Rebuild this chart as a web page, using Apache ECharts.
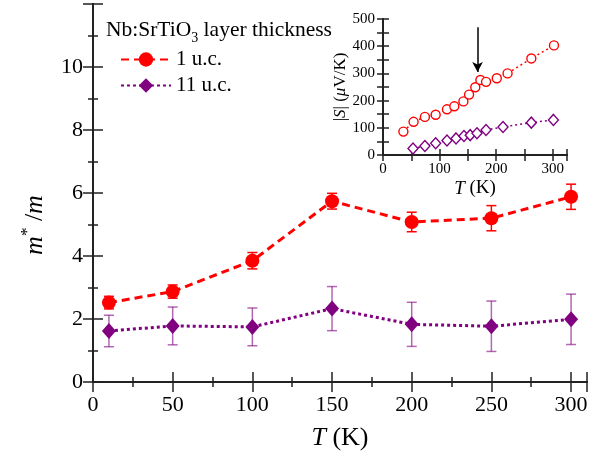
<!DOCTYPE html>
<html><head><meta charset="utf-8">
<script src="https://cdn.jsdelivr.net/npm/echarts@6/dist/echarts.min.js"></script>
<style>html,body{margin:0;padding:0;background:#fff}#c{width:607px;height:457px}</style>
</head><body><div id="c"></div>
<script>
// main panel: effective mass ratio vs temperature
const T_MAIN = [10, 50, 100, 150, 200, 250, 300];
const M_1UC = [2.52, 2.87, 3.85, 5.74, 5.08, 5.20, 5.88];
const M_1UC_ERR = [0.20, 0.21, 0.26, 0.25, 0.31, 0.40, 0.40];
const M_11UC = [1.62, 1.78, 1.75, 2.33, 1.83, 1.77, 1.99];
const M_11UC_ERR = [0.50, 0.60, 0.60, 0.70, 0.70, 0.80, 0.80];
// inset: |S| vs temperature
const T_S_1UC = [36, 54, 74, 93, 113, 126, 142, 152, 163, 172, 182, 201, 220, 262, 302];
const S_1UC = [86, 122, 140, 148, 168, 179, 197, 222, 249, 276, 269, 282, 300, 355, 403];
const T_S_11UC = [53, 74, 93, 113, 129, 143, 154, 166, 182, 212, 262, 301];
const S_11UC = [24, 33, 43, 53, 61, 70, 73, 80, 92, 103, 119, 129];
// arrow in inset
const ARROW_T = 167, ARROW_FROM = 470, ARROW_TO = 305;
const NAMES = ['1 u.c.', '11 u.c.'];

const FONT = 'Liberation Serif';
const RED = '#ff0000', PURPLE = '#800080';
const pairs = (xs, ys) => xs.map((x, i) => [x, ys[i]]);
const errData = (xs, ys, es) => xs.map((x, i) => [x, ys[i] - es[i], ys[i] + es[i]]);

function errRender(color) {
  return function (params, api) {
    const x = api.value(0), lo = api.value(1), hi = api.value(2);
    const a = api.coord([x, lo]), b = api.coord([x, hi]);
    const h = 5;
    const st = { stroke: color, lineWidth: 1.5 };
    return { type: 'group', children: [
      { type: 'line', shape: { x1: a[0], y1: a[1], x2: b[0], y2: b[1] }, style: st },
      { type: 'line', shape: { x1: a[0] - h, y1: a[1], x2: a[0] + h, y2: a[1] }, style: st },
      { type: 'line', shape: { x1: b[0] - h, y1: b[1], x2: b[0] + h, y2: b[1] }, style: st }
    ]};
  };
}

const axLine = { lineStyle: { color: '#222', width: 2 } };
function mainX(pos, show) {
  return {
    type: 'value', gridIndex: 0, position: pos, min: 0, max: 310, interval: 50,
    axisLine: axLine,
    axisTick: { inside: true, length: 10, lineStyle: { color: '#222', width: 1.5 } },
    minorTick: { show: true, splitNumber: 2, length: 5, lineStyle: { color: '#222', width: 1.5 } },
    splitLine: { show: false }, minorSplitLine: { show: false },
    axisLabel: { show: show, fontFamily: FONT, fontSize: 22, color: '#000', margin: 12,
      formatter: v => (v % 50 === 0 && v <= 300) ? String(v) : '' },
    name: show ? '{i|T} (K)' : '', nameLocation: 'middle', nameGap: 43,
    nameTextStyle: { fontFamily: FONT, fontSize: 26, color: '#000',
      rich: { i: { fontFamily: FONT, fontSize: 26, fontStyle: 'italic', color: '#000' } } }
  };
}
function mainY(pos, show) {
  return {
    type: 'value', gridIndex: 0, position: pos, min: 0, max: 12, interval: 2,
    axisLine: axLine,
    axisTick: { inside: true, length: 10, lineStyle: { color: '#222', width: 1.5 } },
    minorTick: { show: true, splitNumber: 2, length: 5, lineStyle: { color: '#222', width: 1.5 } },
    splitLine: { show: false }, minorSplitLine: { show: false },
    axisLabel: { show: show, fontFamily: FONT, fontSize: 22, color: '#000', margin: 10,
      formatter: v => (v <= 10) ? String(v) : '' },
    name: show ? '{i|m}{s|*}{n| /}{i|m}' : '', nameLocation: 'middle', nameGap: 42,
    nameTextStyle: { fontFamily: FONT, fontSize: 26, color: '#000', padding: [0, 64, 0, 0],
      rich: {
        i: { fontFamily: FONT, fontSize: 26, fontStyle: 'italic', color: '#000', lineHeight: 32 },
        n: { fontFamily: FONT, fontSize: 26, color: '#000', lineHeight: 32 },
        s: { fontFamily: FONT, fontSize: 17, color: '#000', verticalAlign: 'top', lineHeight: 17 }
      } }
  };
}
function insetX(pos, show) {
  return {
    type: 'value', gridIndex: 1, position: pos, min: 0, max: 325, interval: 50,
    axisLine: axLine,
    axisTick: { inside: true, length: 6, lineStyle: { color: '#222', width: 1.5 } },
    splitLine: { show: false },
    axisLabel: { show: show, fontFamily: FONT, fontSize: 15, color: '#000', margin: 7,
      formatter: v => (v % 100 === 0) ? String(v) : '' },
    name: show ? '{i|T} (K)' : '', nameLocation: 'middle', nameGap: 24,
    nameTextStyle: { fontFamily: FONT, fontSize: 19, color: '#000',
      rich: { i: { fontFamily: FONT, fontSize: 19, fontStyle: 'italic', color: '#000' } } }
  };
}
function insetY(pos, show) {
  return {
    type: 'value', gridIndex: 1, position: pos, min: 0, max: 500, interval: 50,
    axisLine: axLine,
    axisTick: { inside: true, length: 6, lineStyle: { color: '#222', width: 1.5 } },
    splitLine: { show: false },
    axisLabel: { show: show, fontFamily: FONT, fontSize: 15, color: '#000', margin: 8,
      formatter: v => (v % 100 === 0) ? String(v) : '' },
    name: show ? '|{i|S}| ({i|μ}V/K)' : '', nameLocation: 'middle', nameGap: 16,
    nameTextStyle: { fontFamily: FONT, fontSize: 17, color: '#000',
      rich: { i: { fontFamily: FONT, fontSize: 17, fontStyle: 'italic', color: '#000' } } }
  };
}

const option = {
  backgroundColor: '#fff',
  animation: false,
  title: {
    text: '{n|Nb:SrTiO}{s|3}{n| layer thickness}', left: 101, top: 10,
    textStyle: { fontWeight: 'normal', rich: {
      n: { fontFamily: FONT, fontSize: 21.5, fontWeight: 'normal', color: '#000', lineHeight: 30 },
      s: { fontFamily: FONT, fontSize: 14, fontWeight: 'normal', color: '#000', verticalAlign: 'bottom', lineHeight: 15 }
    } }
  },
  legend: {
    data: NAMES, orient: 'vertical', left: 115, top: 44, itemWidth: 50, itemHeight: 18, itemGap: 5,
    textStyle: { fontFamily: FONT, fontSize: 21, color: '#000' }
  },
  grid: [
    { left: 93, right: 20, top: 4, bottom: 75 },
    { left: 383, right: 40, top: 19, bottom: 302 }
  ],
  xAxis: [mainX('bottom', true), mainX('top', false), insetX('bottom', true), insetX('top', false)],
  yAxis: [mainY('left', true), mainY('right', false), insetY('left', true), insetY('right', false)],
  series: [
    { type: 'custom', xAxisIndex: 0, yAxisIndex: 0, z: 1, silent: true,
      renderItem: errRender(RED), data: errData(T_MAIN, M_1UC, M_1UC_ERR) },
    { type: 'custom', xAxisIndex: 0, yAxisIndex: 0, z: 1, silent: true,
      renderItem: errRender('rgba(128,0,128,0.6)'), data: errData(T_MAIN, M_11UC, M_11UC_ERR) },
    { name: NAMES[0], type: 'line', xAxisIndex: 0, yAxisIndex: 0, z: 3,
      data: pairs(T_MAIN, M_1UC), symbol: 'circle', symbolSize: 14,
      itemStyle: { color: RED }, lineStyle: { color: RED, width: 3, type: [8, 5] } },
    { name: NAMES[1], type: 'line', xAxisIndex: 0, yAxisIndex: 0, z: 3,
      data: pairs(T_MAIN, M_11UC), symbol: 'diamond', symbolSize: [14, 16],
      itemStyle: { color: PURPLE }, lineStyle: { color: PURPLE, width: 3, type: [3, 3] } },
    { type: 'line', xAxisIndex: 2, yAxisIndex: 2, z: 3,
      data: pairs(T_S_1UC, S_1UC), symbol: 'circle', symbolSize: 9,
      itemStyle: { color: '#fff', borderColor: RED, borderWidth: 1.4 },
      lineStyle: { color: RED, width: 1.5, type: [2, 3] },
      markLine: { silent: true, symbol: ['none', 'arrow'], symbolSize: [8, 10],
        label: { show: false }, lineStyle: { color: '#000', width: 1.5, type: 'solid' },
        data: [[{ coord: [ARROW_T, ARROW_FROM] }, { coord: [ARROW_T, ARROW_TO] }]] } },
    { type: 'line', xAxisIndex: 2, yAxisIndex: 2, z: 3,
      data: pairs(T_S_11UC, S_11UC), symbol: 'diamond', symbolSize: [10, 11],
      itemStyle: { color: '#fff', borderColor: PURPLE, borderWidth: 1.4 },
      lineStyle: { color: PURPLE, width: 1.5, type: [2, 3] } }
  ]
};
echarts.init(document.getElementById('c'), null, { renderer: 'canvas' }).setOption(option);
</script></body></html>
